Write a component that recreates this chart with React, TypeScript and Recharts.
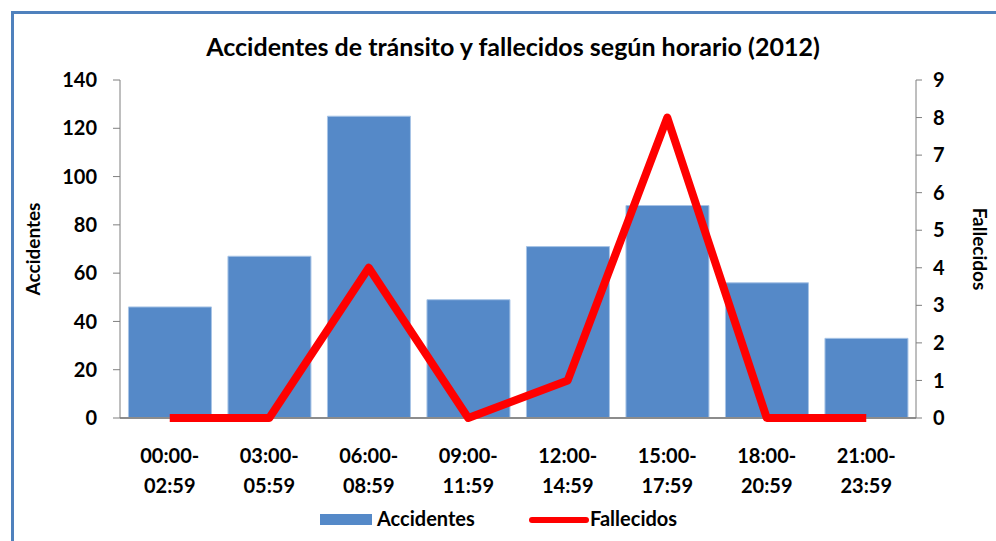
import React from "react";
import { ComposedChart, Bar, Line, XAxis, YAxis, Label } from "recharts";

const categories = ["00:00-02:59", "03:00-05:59", "06:00-08:59", "09:00-11:59", "12:00-14:59", "15:00-17:59", "18:00-20:59", "21:00-23:59"];
const accidentes = [46, 67, 125, 49, 71, 88, 56, 33];
const fallecidos = [0, 0, 4, 0, 1, 8, 0, 0];
const leftTicks = [0, 20, 40, 60, 80, 100, 120, 140];
const rightTicks = [0, 1, 2, 3, 4, 5, 6, 7, 8, 9];

const data = categories.map((c, i) => ({ cat: c, Accidentes: accidentes[i], Fallecidos: fallecidos[i] }));

const FONT = "Lato, 'Open Sans', sans-serif";

const XTick = (props: any) => {
  const { x, y, payload } = props;
  const parts = String(payload.value).split("-");
  return (
    <text x={x} y={y} textAnchor="middle" fontFamily={FONT} fontWeight={700} fontSize={20} fill="#000">
      <tspan x={x} dy={37}>{parts[0] + "-"}</tspan>
      <tspan x={x} dy={30}>{parts[1]}</tspan>
    </text>
  );
};

export default function App() {
  return (
    <div style={{ position: "absolute", left: 0, top: 0, width: 996, height: 541, background: "#fff", overflow: "hidden" }}>
      <div style={{ position: "absolute", left: 11, top: 11, right: 0, bottom: 0, borderLeft: "3px solid #4F81BD", borderTop: "3px solid #4F81BD" }} />
      <div style={{ position: "absolute", left: 0, top: 31, width: 1026, textAlign: "center", fontFamily: FONT, fontWeight: 700, fontSize: 25, color: "#000" }}>
        Accidentes de tránsito y fallecidos según horario (2012)
      </div>
      <div style={{ position: "absolute", left: 0, top: 0 }}>
        <ComposedChart width={996} height={541} data={data} margin={{ top: 80, right: 0, bottom: 43, left: 0 }} barCategoryGap="8.5%">
          <XAxis dataKey="cat" tick={<XTick />} tickLine={false} axisLine={{ stroke: "#8C8C8C", strokeWidth: 2 }} height={80} interval={0} />
          <YAxis yAxisId="left" width={120} domain={[0, 140]} ticks={leftTicks} interval={0} tickSize={7} tickMargin={16}
            tick={{ fontFamily: FONT, fontWeight: 700, fontSize: 20, fill: "#000" }}
            axisLine={{ stroke: "#7F7F7F" }} tickLine={{ stroke: "#7F7F7F" }}>
            <Label value="Accidentes" angle={-90} position="insideLeft" offset={33} style={{ fontFamily: FONT, fontWeight: 700, fontSize: 19, fill: "#000", textAnchor: "middle" }} />
          </YAxis>
          <YAxis yAxisId="right" orientation="right" width={80} domain={[0, 9]} ticks={rightTicks} interval={0} tickSize={6} tickMargin={11}
            tick={{ fontFamily: FONT, fontWeight: 700, fontSize: 20, fill: "#000" }}
            axisLine={{ stroke: "#7F7F7F" }} tickLine={{ stroke: "#7F7F7F" }}>
            <Label value="Fallecidos" angle={90} position="insideRight" offset={16} style={{ fontFamily: FONT, fontWeight: 700, fontSize: 19, fill: "#000", textAnchor: "middle" }} />
          </YAxis>
          <Bar yAxisId="left" dataKey="Accidentes" fill="#5589C8" stroke="#A8C4E6" strokeWidth={1} isAnimationActive={false} />
          <Line yAxisId="right" type="linear" dataKey="Fallecidos" stroke="#FF0000" strokeWidth={8} dot={false} activeDot={false} isAnimationActive={false} strokeLinejoin="round" zIndex={1000} />
        </ComposedChart>
      </div>
      <svg width={996} height={40} style={{ position: "absolute", left: 0, top: 500 }}>
        <rect x={320} y={14} width={52} height={11} fill="#5589C8" />
        <text x={377} y={26} fontFamily={FONT} fontWeight={700} fontSize={20} fill="#000">Accidentes</text>
        <line x1={532} y1={20} x2={586} y2={20} stroke="#FF0000" strokeWidth={6} strokeLinecap="round" />
        <text x={590} y={26} fontFamily={FONT} fontWeight={700} fontSize={20} fill="#000">Fallecidos</text>
      </svg>
    </div>
  );
}
